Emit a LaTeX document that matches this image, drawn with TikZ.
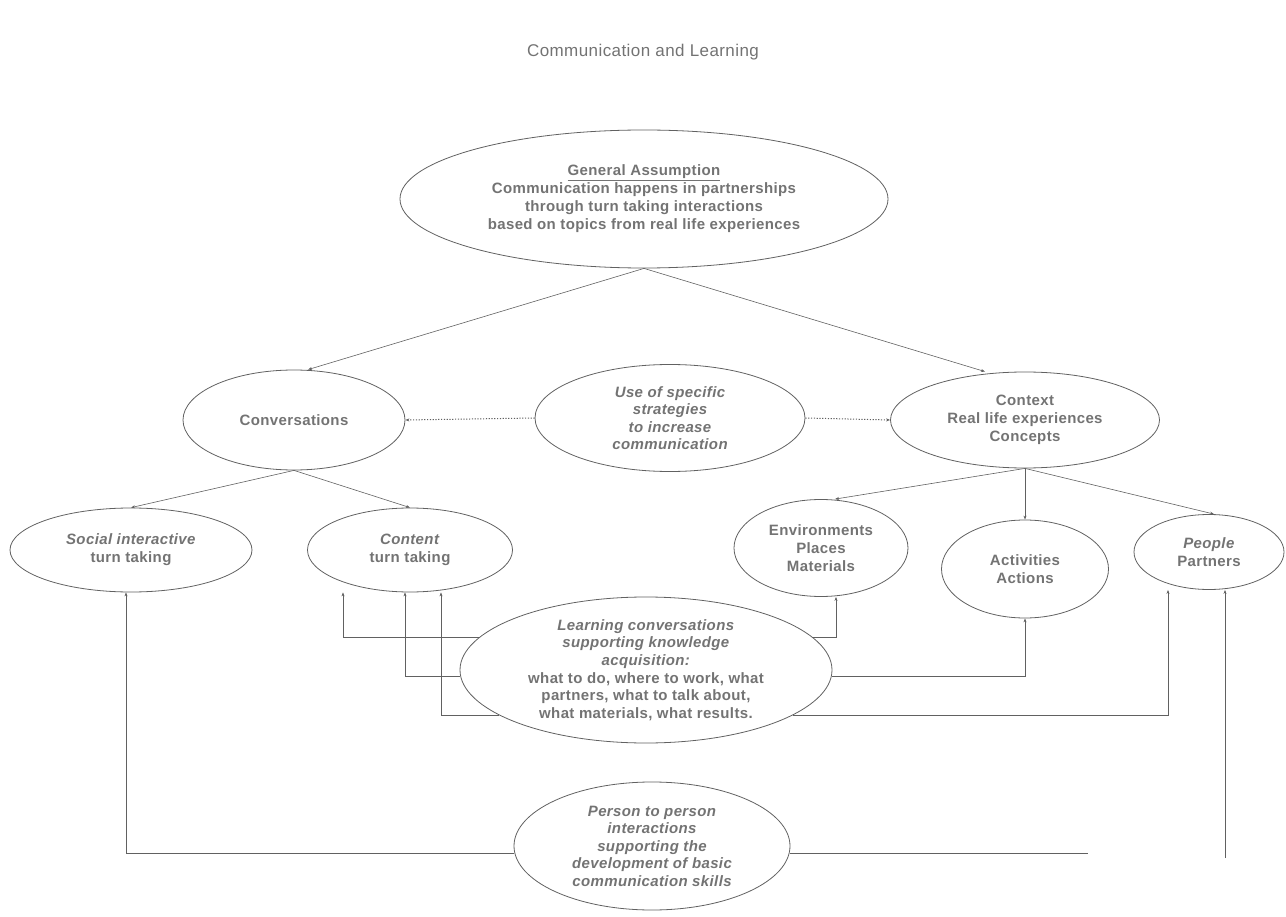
\documentclass[tikz,border=0pt]{standalone}
\usepackage{fontspec}
\setmainfont[LetterSpace=2.5]{Liberation Sans}
\usetikzlibrary{shapes.geometric,arrows.meta}
\definecolor{inkgray}{gray}{0.38}
\definecolor{txtgray}{gray}{0.45}
\tikzset{
  bubble/.style={ellipse, draw=inkgray, line width=0.8pt, inner sep=0pt, align=center,
    text=txtgray, font=\bfseries\fontsize{15}{18}\selectfont},
  link/.style={draw=inkgray, line width=0.6pt, -{Stealth[length=4pt,width=3pt]}},
  plainlink/.style={draw=inkgray, line width=0.6pt},
  dotlink/.style={link, line width=1pt, dash pattern=on 1.2pt off 1.6pt}
}
\begin{document}
\begin{tikzpicture}[x=1pt, y=-1pt]
  \useasboundingbox (0,0) rectangle (1286,917);
  % title
  \node[text=txtgray, font=\fontsize{17}{20}\selectfont] (title) at (643,52) {Communication and Learning};
  % general assumption
  \node[bubble, minimum width=488pt, minimum height=138pt] (assume) at (644,199)
    {\underline{General Assumption}\\Communication happens in partnerships\\through turn taking interactions\\based on topics from real life experiences};
  % second row
  \node[bubble, minimum width=222pt, minimum height=100pt] (conv) at (294,420) {Conversations};
  \node[bubble, minimum width=270pt, minimum height=107pt, font=\bfseries\itshape\fontsize{15}{17.5}\selectfont] (strat) at (670,418)
    {Use of specific\\strategies\\to increase\\communication};
  \node[bubble, minimum width=269pt, minimum height=96pt] (ctx) at (1025,420) {Context\\Real life experiences\\Concepts};
  % third row
  \node[bubble, minimum width=242pt, minimum height=84pt] (social) at (131,550) {\textit{Social interactive}\\turn taking};
  \node[bubble, minimum width=205pt, minimum height=84pt] (content) at (410,550) {\textit{Content}\\turn taking};
  \node[bubble, minimum width=174pt, minimum height=97pt] (env) at (821,548) {Environments\\Places\\Materials};
  \node[bubble, minimum width=167pt, minimum height=98pt] (act) at (1025,569) {Activities\\Actions};
  \node[bubble, minimum width=150pt, minimum height=75pt] (people) at (1209,552) {\textit{People}\\Partners};
  % learning conversations
  \node[bubble, minimum width=372pt, minimum height=146pt, font=\bfseries\fontsize{15}{17.6}\selectfont] (learn) at (646,670)
    {\textit{Learning conversations}\\\textit{supporting knowledge}\\\textit{acquisition:}\\what to do, where to work, what\\partners, what to talk about,\\what materials, what results.};
  % person to person
  \node[bubble, minimum width=276pt, minimum height=128pt, font=\bfseries\itshape\fontsize{15}{17.5}\selectfont] (person) at (652,846)
    {Person to person\\interactions\\supporting the\\development of basic\\communication skills};
  % tree links
  \draw[link] (assume.south) -- ([xshift=14pt]conv.north);
  \draw[link] (assume.south) -- ([xshift=-40pt]ctx.north);
  \draw[dotlink] (strat.west) -- (conv.east);
  \draw[dotlink] (strat.east) -- (ctx.west);
  \draw[link] (conv.south) -- (social.north);
  \draw[link] (conv.south) -- (content.north);
  \draw[link] (ctx.south) -- ([xshift=14pt]env.north);
  \draw[link] (ctx.south) -- (act.north);
  \draw[link] (ctx.south) -- ([xshift=5pt]people.north);
  % learning links
  \draw[link] (learn.169) -| ([xshift=-67pt]content.south);
  \draw[link] (learn.182) -| ([xshift=-5pt]content.south);
  \draw[link] (learn.197) -| ([xshift=31pt]content.south);
  \draw[link] (learn.11) -| ([xshift=15pt]env.south);
  \draw[link] (learn.358) -| (act.south);
  \draw[link] (learn.343) -| ([xshift=-41pt]people.south);
  % person links
  \coordinate (brk) at (1088,852);
  \coordinate (rise) at (1225,858);
  \draw[link] (person.183) -| ([xshift=-5pt]social.south);
  \draw[plainlink] (person.357) -- (person.357 -| brk);
  \draw[link] (rise) -- (rise |- people.south);
\end{tikzpicture}
\end{document}
